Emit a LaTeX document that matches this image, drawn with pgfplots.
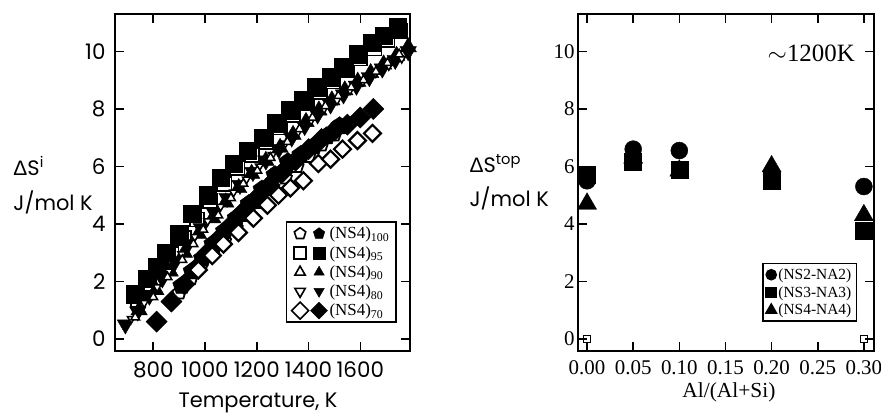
\documentclass[border=0pt]{standalone}
\usepackage{fontspec}
\setmainfont{Liberation Serif}
\setsansfont{Poppins}
\newfontfamily\deltafont{Liberation Sans}
\usepackage{pgfplots}
\pgfplotsset{compat=1.18}

\pgfplotsset{
  frame/.style={scale only axis, width=295bp, height=337bp, anchor=south west,
    axis line style={line width=1.6bp}, tick align=inside, major tick length=9bp,
    every tick/.style={black, line width=1.6bp},
    /pgf/number format/assume math mode=true, scaled ticks=false,
    /pgf/number format/1000 sep={},
    ymin=-0.42, ymax=11.3, ytick={0,2,4,6,8,10}},
  dbl/.style 2 args={legend image code/.code={
     \draw[line width=1.6bp] plot[only marks, mark size=6bp, #1] coordinates {(0bp,0bp)};
     \draw[line width=0.4bp] plot[only marks, mark size=6bp, #2] coordinates {(19bp,0bp)};}},
}

\begin{document}
\begin{tikzpicture}
\useasboundingbox (0,0) rectangle (881bp,414bp);

% left panel: Delta S^i against temperature
\begin{axis}[frame, at={(115bp,63bp)},
  xmin=652, xmax=1792, xtick={800,1000,1200,1400,1600},
  ticklabel style={font=\sffamily\fontsize{21.5}{23}\selectfont},
  xticklabel style={yshift=-7bp}, yticklabel style={xshift=-6bp},
  legend style={at={(axis description cs:0.956,0.083)}, anchor=south east,
    draw=black, line width=1.6bp, font=\fontsize{17}{17}\selectfont,
    row sep=2bp, inner xsep=5bp, inner ysep=3bp},
  legend cell align=left,
  extra description/.code={
    \node[anchor=base west, font=\sffamily\fontsize{21}{22}\selectfont] at (axis description cs:-0.356,0.522) {{\deltafont Δ}S\textsuperscript{i}};
    \node[anchor=base west, font=\sffamily\fontsize{21}{22}\selectfont] at (axis description cs:-0.356,0.418) {J/mol K};
    \node[anchor=base, font=\sffamily\fontsize{21}{22}\selectfont] at (axis description cs:0.485,-0.169) {Temperature, K};
  }]
% (NS4)95 open / filled
\addplot[forget plot, black, only marks, mark=square*, mark size=7bp, mark options={fill=white, line width=1.8bp}] coordinates {
(740,1.35)(785,1.9)(830,2.4)(870,2.95)(920,3.5)(970,4.15)(1020,4.8)(1075,5.4)(1125,5.95)(1180,6.4)(1235,6.85)(1290,7.35)(1340,7.8)(1395,8.2)(1445,8.6)(1495,8.95)(1550,9.35)(1600,9.75)(1655,10.1)(1705,10.4)(1755,10.7)};
\addplot[forget plot, black, only marks, mark=square*, mark size=8.8bp] coordinates {
(730,1.55)(775,2.1)(815,2.5)(850,3.0)(900,3.65)(950,4.35)(1010,5.0)(1060,5.6)(1110,6.1)(1165,6.55)(1225,7.0)(1275,7.5)(1330,7.95)(1380,8.3)(1430,8.75)(1485,9.1)(1535,9.45)(1590,9.9)(1645,10.3)(1690,10.55)(1745,10.85)};
% (NS4)80 filled
\addplot[forget plot, black, only marks, mark=triangle*, mark size=9.5bp, mark options={rotate=180}] coordinates {
(692,0.5)(740,0.95)(785,1.5)(835,2.1)(885,2.7)(935,3.3)(985,3.85)(1035,4.4)(1085,4.9)(1135,5.35)(1185,5.8)(1235,6.2)(1285,6.6)(1335,7.0)(1385,7.4)(1435,7.8)(1485,8.15)(1535,8.5)(1585,8.8)(1635,9.1)(1685,9.4)(1735,9.7)(1785,10.0)};
% (NS4)90 filled
\addplot[forget plot, black, only marks, mark=triangle*, mark size=9.5bp] coordinates {
(745,1.0)(810,1.7)(865,2.35)(920,3.0)(975,3.65)(1030,4.2)(1080,4.75)(1130,5.25)(1180,5.75)(1235,6.2)(1290,6.65)(1340,7.1)(1390,7.55)(1440,7.95)(1490,8.3)(1540,8.65)(1590,8.95)(1640,9.25)(1690,9.55)(1740,9.85)(1785,10.15)};
% (NS4)80 open
\addplot[forget plot, black, only marks, mark=triangle*, mark size=4.5bp, mark options={rotate=180, fill=white, line width=1.5bp}] coordinates {
(715,0.7)(765,1.25)(815,1.8)(860,2.35)(910,2.95)(960,3.55)(1010,4.1)(1060,4.6)(1110,5.1)(1160,5.55)(1210,6.0)(1260,6.4)(1310,6.8)(1360,7.2)(1410,7.6)(1460,8.0)(1510,8.3)(1560,8.65)(1610,8.95)(1660,9.25)(1710,9.5)(1760,9.75)};
% (NS4)90 open
\addplot[forget plot, black, only marks, mark=triangle*, mark size=5bp, mark options={fill=white, line width=1.5bp}] coordinates {
(730,0.75)(800,1.45)(855,2.15)(912,2.75)(955,3.3)(993,3.8)(1051,4.3)(1100,4.9)(1148,5.4)(1202,5.85)(1253,6.3)(1318,6.85)(1365,7.3)(1415,7.7)(1465,8.1)(1515,8.45)(1565,8.75)(1612,9.0)(1660,9.3)(1705,9.6)(1750,9.9)};
% (NS4)100 open / filled
\addplot[forget plot, black, only marks, mark=pentagon*, mark size=7bp, mark options={fill=white, line width=1.8bp}] coordinates {
(900,1.6)(945,2.1)(985,2.55)(1030,3.0)(1075,3.4)(1120,3.85)(1165,4.3)(1215,4.75)(1260,5.2)(1310,5.6)(1355,6.0)(1400,6.35)(1450,6.75)(1500,7.1)};
\addplot[forget plot, black, only marks, mark=pentagon*, mark size=9.5bp] coordinates {
(910,1.85)(950,2.35)(990,2.8)(1030,3.3)(1075,3.75)(1120,4.2)(1170,4.7)(1220,5.2)(1270,5.7)(1320,6.15)(1370,6.4)(1420,6.7)(1470,7.05)(1520,7.4)};
% (NS4)70 filled / open
\addplot[forget plot, black, only marks, mark=square*, mark size=7.5bp, mark options={rotate=45}] coordinates {
(813,0.6)(870,1.3)(920,1.9)(965,2.45)(1010,3.0)(1060,3.55)(1105,4.0)(1150,4.45)(1200,4.9)(1250,5.35)(1300,5.8)(1350,6.2)(1400,6.6)(1450,6.95)(1500,7.25)(1550,7.45)(1600,7.7)(1650,8.0)};
\addplot[forget plot, black, only marks, mark=square*, mark size=6bp, mark options={rotate=45, fill=white, line width=2.2bp}] coordinates {
(974,2.4)(1028,2.9)(1071,3.3)(1129,3.7)(1187,4.2)(1241,4.65)(1284,5.0)(1330,5.25)(1380,5.5)(1438,6.1)(1485,6.25)(1531,6.6)(1589,6.9)(1647,7.15)};

\addlegendimage{dbl={mark=pentagon}{mark=pentagon*}}
\addlegendentry{(NS4)\textsubscript{100}}
\addlegendimage{dbl={mark=square}{mark=square*}}
\addlegendentry{(NS4)\textsubscript{95}}
\addlegendimage{dbl={mark=triangle}{mark=triangle*}}
\addlegendentry{(NS4)\textsubscript{90}}
\addlegendimage{dbl={mark=triangle,mark options={rotate=180}}{mark=triangle*,mark options={rotate=180}}}
\addlegendentry{(NS4)\textsubscript{80}}
\addlegendimage{dbl={mark=square,mark options={rotate=45}}{mark=square*,mark options={rotate=45}}}
\addlegendentry{(NS4)\textsubscript{70}}
\end{axis}

% right panel: Delta S^top against Al/(Al+Si)
\begin{axis}[frame, at={(578bp,63bp)}, width=296bp,
  xmin=-0.0098, xmax=0.311, xtick={0,0.05,0.1,0.15,0.2,0.25,0.3},
  ticklabel style={font=\fontsize{21}{23}\selectfont},
  xticklabel style={yshift=-6bp, /pgf/number format/.cd, fixed, fixed zerofill, precision=2},
  legend style={at={(axis description cs:0.943,0.086)}, anchor=south east,
    draw=black, line width=1.6bp, font=\fontsize{15.5}{15.5}\selectfont,
    row sep=1.5bp, inner sep=3bp},
  legend cell align=left,
  legend image code/.code={\draw plot[only marks] coordinates {(0.25cm,0cm)};},
  extra description/.code={
    \node[anchor=base west, font=\sffamily\fontsize{21}{22}\selectfont] at (axis description cs:-0.378,0.531) {{\deltafont Δ}S\textsuperscript{top}};
    \node[anchor=base west, font=\sffamily\fontsize{21}{22}\selectfont] at (axis description cs:-0.378,0.43) {J/mol K};
    \node[anchor=base, font=\fontsize{21.5}{23}\selectfont] at (axis description cs:0.51,-0.139) {Al/(Al+Si)};
    \node[anchor=base east, font=\fontsize{25}{26}\selectfont] at (axis description cs:0.947,0.858) {$\sim$1200K};
  }]
\addplot[forget plot, black, only marks, mark=*, mark size=8.5bp] coordinates {
(0,5.5)(0.05,6.6)(0.10,6.55)(0.20,5.7)(0.30,5.3)};
\addplot[forget plot, black, only marks, mark=square*, mark size=8.5bp] coordinates {
(0,5.7)(0.05,6.15)(0.10,5.9)(0.20,5.5)(0.30,3.75)};
\addplot[forget plot, black, only marks, mark=triangle*, mark size=11bp] coordinates {
(0,4.7)(0.05,6.3)(0.10,5.85)(0.20,6.0)(0.30,4.3)};
\addplot[forget plot, black, only marks, mark=square, mark size=3.5bp, mark options={line width=1.2bp}] coordinates {
(0,0)(0.30,0)};

\addlegendimage{only marks, black, mark=*, mark size=5bp}
\addlegendentry{(NS2-NA2)}
\addlegendimage{only marks, black, mark=square*, mark size=5bp}
\addlegendentry{(NS3-NA3)}
\addlegendimage{only marks, black, mark=triangle*, mark size=6bp}
\addlegendentry{(NS4-NA4)}
\end{axis}
\end{tikzpicture}
\end{document}
